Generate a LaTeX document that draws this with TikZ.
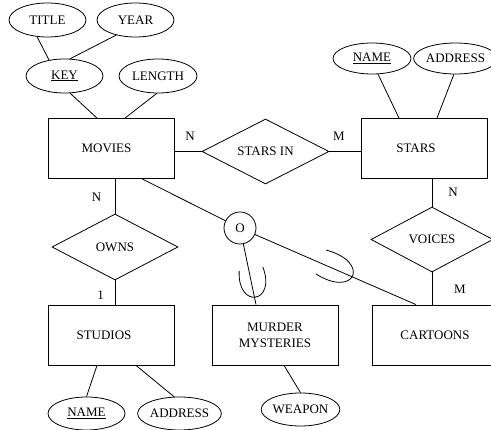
\documentclass[tikz,border=0pt]{standalone}
\usepackage{fontspec}
\setmainfont{Liberation Serif}
\usetikzlibrary{shapes.geometric}
\begin{document}
\begin{tikzpicture}[x=1pt,y=-1pt,
  every node/.style={font=\fontsize{13}{16}\selectfont},
  line/.style={line width=0.8pt,black},
  entity/.style={draw,line width=0.8pt,rectangle,minimum width=126pt,minimum height=60pt,inner sep=0pt,align=center},
  rel/.style={draw,line width=0.8pt,diamond,shape aspect=2,inner sep=0pt},
  attr/.style={draw,line width=0.8pt,ellipse,inner sep=0pt,minimum width=77pt,minimum height=34pt},
  card/.style={inner sep=0pt}]
\useasboundingbox (0,0) rectangle (491,430);
\clip (0,0) rectangle (491,430);

% entities
\node[entity] (movies) at (111,148.5) {MOVIES\hspace*{9pt}};
\node[entity] (stars) at (424,148.5) {STARS\hspace*{16pt}};
\node[entity] (studios) at (111,335) {STUDIOS\hspace*{14pt}};
\node[entity] (murder) at (275,335) {MURDER\\MYSTERIES};
\node[entity] (cartoons) at (435,335) {CARTOONS};

% relationships
\node[rel,minimum width=127pt,minimum height=65pt] (starsin) at (265.5,151.5) {STARS IN};
\node[rel,minimum width=126pt,minimum height=66pt] (owns) at (115,247) {OWNS};
\node[rel,minimum width=122pt,minimum height=65pt] (voices) at (432,239.5) {VOICES};

% attributes
\node[attr] (title) at (47.5,20) {TITLE};
\node[attr] (year) at (135.5,20) {YEAR};
\node[attr] (key) at (64.5,76) {\underline{KEY}};
\node[attr,minimum width=78pt] (length) at (158,76) {LENGTH};
\node[attr,minimum width=78pt,minimum height=31pt] (sname) at (372,58.5) {\underline{NAME}};
\node[attr,minimum width=69pt,minimum height=31pt] (saddress) at (455.5,58.5) {ADDRESS};
\node[attr,minimum height=33pt] (stname) at (86.5,413.5) {\underline{NAME}};
\node[attr,minimum height=33pt] (staddress) at (179.5,413.5) {ADDRESS};
\node[attr,minimum height=33pt] (weapon) at (300.5,409.5) {WEAPON};

% isa circle
\node[draw,line width=0.8pt,circle,minimum size=32pt,inner sep=0pt] (o) at (240,228) {O};

% attribute connectors
\draw[line] (title.238) -- (key.134);
\draw[line] (year.218) -- (key.72);
\draw[line] (key.288) -- ([xshift=-14pt]movies.north);
\draw[line] (length.266) -- ([xshift=14pt]movies.north);
\draw[line] (sname.291) -- ([xshift=-25pt]stars.north);
\draw[line] (saddress.264) -- ([xshift=13pt]stars.north);
\draw[line] ([xshift=-14pt]studios.south) -- (stname.90);
\draw[line] ([xshift=25pt]studios.south) -- (staddress.108);
\draw[line] ([xshift=9pt]murder.south) -- (weapon.90);

% relationship connectors
\draw[line] (starsin.west) -- (starsin.west -| movies.east);
\draw[line] (starsin.east) -- (starsin.east -| stars.west);
\draw[line] (owns.north) -- (owns.north |- movies.south);
\draw[line] (owns.south) -- (owns.south |- studios.north);
\draw[line] (voices.north) -- (voices.north |- stars.south);
\draw[line] (voices.south) -- (voices.south |- cartoons.north);

% isa connectors
\draw[line] ([xshift=31pt]movies.south) -- (o);
\draw[line] (o) -- ([xshift=-19pt]murder.north);
\draw[line] (o) -- ([xshift=-19pt]cartoons.north);

% subset marks
\draw[line,shift={(251,269)},rotate=-80.8] (0,12) .. controls (38,20) and (38,-20) .. (0,-12);
\draw[line,shift={(321,262)},rotate=-23.6] (0,13) .. controls (46,20) and (46,-20) .. (0,-13);

% cardinalities
\node[card] (c1) at (190,136) {N};
\node[card] (c2) at (339,136) {M};
\node[card] (c3) at (96.5,197) {N};
\node[card] (c4) at (100.5,295.5) {1};
\node[card] (c5) at (453,192) {N};
\node[card] (c6) at (460,289) {M};
\end{tikzpicture}
\end{document}
